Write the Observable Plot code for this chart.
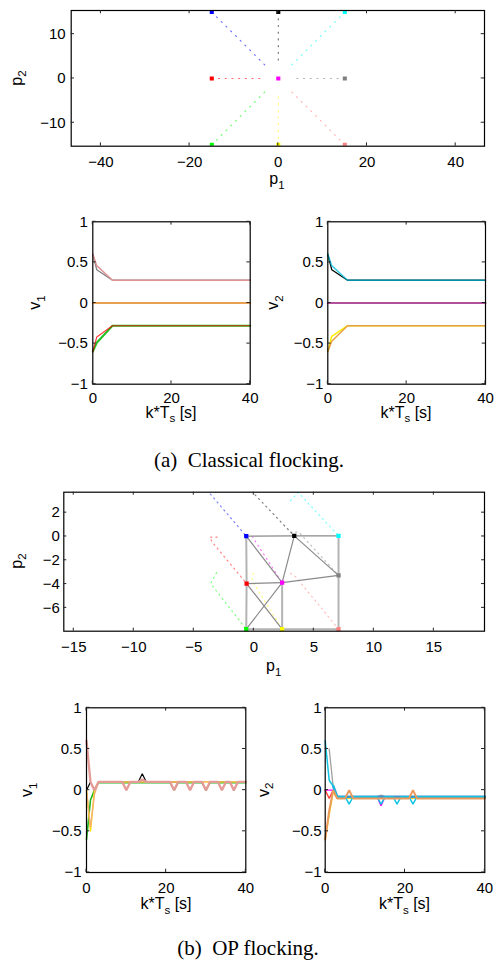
<!DOCTYPE html>
<html><head><meta charset="utf-8">
<script src="https://cdn.jsdelivr.net/npm/d3@7"></script>
<script src="https://cdn.jsdelivr.net/npm/@observablehq/plot@0.6"></script>
<style>
body{margin:0;background:#fff;}
#fig{position:relative;width:496px;height:961px;overflow:hidden;}
#fig svg{position:absolute;}
</style></head><body><div id="fig"></div>
<script>
// ---------- data ----------
const agents = ["blue","black","cyan","red","magenta","gray","green","yellow","salmon"];
const agentColors = ["#0000ff","#000000","#00ffff","#ff0000","#ff00ff","#808080","#00ff00","#ffff00","#ff8080"];

// (a) classical: start markers and inner ends of trajectories
const classP1 = [-15, 0, 15, -15, 0, 15, -15, 0, 15];
const classP2 = [15, 15, 15, 0, 0, 0, -15, -15, -15];
const classEndP1 = [-3, 0, 3, -3, 0, 3, -3, 0, 3];
const classEndP2 = [3, 3, 3, 0, 0, 0, -3, -3, -3];

// (a) velocities (vertices)
const classV1Agent = ["gray", "salmon", "magenta", "green", "red"];
const classV1T = [[0,1,5,40],[0,1,5,40],[0,40],[0,1,5,40],[0,1,5,40]];
const classV1V = [[0.6,0.41,0.28,0.28],[0.6,0.46,0.28,0.28],[0,0],[-0.6,-0.49,-0.28,-0.28],[-0.6,-0.42,-0.28,-0.28]];
const classV2Agent = ["yellow", "salmon", "magenta", "black", "cyan"];
const classV2T = [[0,1,5,40],[0,1,5,40],[0,40],[0,1,5,40],[0,1,5,40]];
const classV2V = [[-0.6,-0.41,-0.28,-0.28],[-0.6,-0.47,-0.28,-0.28],[0,0],[0.6,0.41,0.28,0.28],[0.6,0.46,0.28,0.28]];

// (b) OP: final positions
const opP1 = [-0.63, 3.37, 7.06, -0.6, 2.36, 7.06, -0.63, 2.36, 7.06];
const opP2 = [0.03, 0.05, 0.05, -3.96, -3.88, -3.27, -7.79, -7.79, -7.79];
// (b) OP: trajectory vertices per agent
const opTrajP1 = [[-3.9,-0.63],[0.1,3.37],[3.06,3.7,7.06],[-3.06,-3.67,-3.47,-0.6],[-0.13,2.36],[3.06,3.75,7.06],[-3.1,-3.6,-0.63],[-0.05,-0.15,2.36],[3.06,3.5,7.06]];
const opTrajP2 = [[3.9,0.03],[3.5,0.05],[3.0,3.7,0.05],[-0.05,-0.05,-0.47,-3.96],[0.0,-3.88],[0.36,0.36,-3.27],[-3.04,-3.95,-7.79],[-3.1,-3.7,-7.79],[-3.1,-3.4,-7.79]];
// (b) OP: communication graph edges (agent indices)
const opEdgeFrom = [0,1,0,3,2,5,6,7,4,0,1,1,3,4,3,6];
const opEdgeTo   = [1,2,3,6,5,8,7,8,7,4,4,5,4,5,7,4];

// (b) velocities (vertices)
const opV1Agent = ["black","green","yellow","orange","salmon"];
const opV1T = [
  [0,1,2,3,13,14,15,29,30,31,36,37,38,40],
  [0,1,2,3,21,22,23,29,30,31,40],
  [0,1,2,3,40],
  [0,1,2,3,40],
  [0,1,2,3,9,10,11,13,14,15,21,22,23,25,26,27,29,30,31,33,34,35,36,37,38,40]];
const opV1V = [
  [0,0.1,0,0.1,0.1,0.2,0.1,0.1,0,0.1,0.1,0,0.1,0.1],
  [-0.6,-0.12,0,0.09,0.09,0,0.09,0.09,0,0.09,0.09],
  [0,-0.5,0,0.1,0.1],
  [0,-0.45,-0.05,0.1,0.1],
  [0.6,0.1,0,0.1,0.1,0,0.1,0.1,0.13,0.1,0.1,0,0.1,0.1,0,0.1,0.1,0,0.1,0.1,0,0.1,0.1,0,0.1,0.1]];
const opV2Agent = ["gray","magenta","red","yellow","blue","cyan","orange"];
const opV2T = [
  [1,2,3,13,14,15,40],
  [0,1,2,3,13,14,15,40],
  [0,1,2,3,40],
  [0,1,2,3,40],
  [2,3,40],
  [0,1,2,3,5,6,7,13,14,15,17,18,19,21,22,23,40],
  [0,1,2,3,5,6,7,21,22,23,40]];
const opV2V = [
  [0.5,0.04,-0.08,-0.08,-0.06,-0.08,-0.08],
  [0,0,0,-0.08,-0.08,-0.19,-0.08,-0.08],
  [0,-0.1,0,-0.1,-0.1],
  [-0.6,-0.3,-0.02,-0.1,-0.1],
  [0.05,-0.08,-0.08],
  [0.6,0.12,0.05,-0.08,-0.08,-0.17,-0.08,-0.08,-0.17,-0.08,-0.08,-0.17,-0.08,-0.08,-0.17,-0.08,-0.08],
  [-0.6,-0.25,0,-0.1,-0.1,0,-0.1,-0.1,0,-0.1,-0.1]];

const trajXTicksA = [-40,-20,0,20,40], trajYTicksA = [-10,0,10];
const trajXTicksB = [-15,-10,-5,0,5,10,15], trajYTicksB = [-6,-4,-2,0,2];
const velXTicks = [0,20,40], velYTicks = [-1,-0.5,0,0.5,1];

// ---------- styles ----------
const SANS = "'Liberation Sans', Arial, Helvetica, sans-serif";
const SERIF = "'Liberation Serif', 'Times New Roman', serif";
const velStyle = {
  classV1: {gray:["#808080",1.3,1], salmon:["#e09595",1.5,1], magenta:["#e9a050",2.2,1], green:["#22c022",2,1], red:["#ff0000",1.2,0.75]},
  classV2: {yellow:["#ffee00",1.5,1], salmon:["#e2a040",1.4,1], magenta:["#b2509e",2.2,1], black:["#000000",1.3,1], cyan:["#00c0e0",1.6,0.75]},
  opV1: {black:["#000000",1.2,1], green:["#1fb51f",1.6,1], yellow:["#ffe000",1.4,1], orange:["#f5b070",1.4,1], salmon:["#e59b97",2.3,1]},
  opV2: {gray:["#a0a0a0",1.3,1], magenta:["#ff00ff",1.4,1], red:["#ff4040",1.3,1], yellow:["#f0d820",1.4,1], blue:["#3a98d0",2.6,1], cyan:["#10c4e4",1.5,1], orange:["#ec9a5c",2.0,1]}
};
const fmt = d => (d < 0 ? "\u2212" : "") + Math.abs(d);
const fig = document.getElementById("fig");

function panel(o) {
  const plot = Plot.plot({
    width: o.width, height: o.height,
    marginLeft: o.ml, marginRight: o.mr, marginTop: o.mt, marginBottom: o.mb,
    style: {background: "transparent", fontSize: "15px", fontFamily: SANS, overflow: "visible", maxWidth: "none", color: "black"},
    x: {domain: o.xDomain, ticks: o.xTicks, tickSize: 0, tickPadding: o.xPad, tickFormat: fmt, label: null},
    y: {domain: o.yDomain, ticks: o.yTicks, tickSize: 0, tickPadding: o.yPad, tickFormat: fmt, label: null},
    marks: [...o.marks, Plot.frame({stroke: "black", strokeWidth: 1.2})]
  });
  plot.style.left = o.left + "px";
  plot.style.top = o.top + "px";
  const sx = plot.scale("x"), sy = plot.scale("y");
  const x0 = o.ml, x1 = o.width - o.mr, y0 = o.mt, y1 = o.height - o.mb, L = o.tick || 3.3;
  const g = d3.select(plot).append("g").attr("stroke", "#222").attr("stroke-width", 1);
  for (const t of o.xTicks) {
    const X = sx.apply(t);
    g.append("line").attr("x1", X).attr("x2", X).attr("y1", y1).attr("y2", y1 - L);
    g.append("line").attr("x1", X).attr("x2", X).attr("y1", y0).attr("y2", y0 + L);
  }
  for (const t of o.yTicks) {
    const Y = sy.apply(t);
    g.append("line").attr("y1", Y).attr("y2", Y).attr("x1", x0).attr("x2", x0 + L);
    g.append("line").attr("y1", Y).attr("y2", Y).attr("x1", x1).attr("x2", x1 - L);
  }
  label(plot, o.xl[0] - o.left, o.xl[1] - o.top, o.xlab, false);
  label(plot, o.yl[0] - o.left, o.yl[1] - o.top, o.ylab, true);
  fig.appendChild(plot);
  return plot;
}
function label(svg, x, y, parts, rot) {
  const t = d3.select(svg).append("text")
    .attr("transform", `translate(${x},${y})` + (rot ? " rotate(-90)" : ""))
    .attr("text-anchor", "middle").attr("font-size", 16).attr("font-family", SANS).attr("fill", "black");
  t.append("tspan").text(parts[0]);
  t.append("tspan").attr("font-size", 11.5).attr("dy", 4.5).text(parts[1]);
  if (parts[2]) t.append("tspan").attr("dy", -4.5).text(parts[2]);
}
function velMarks(agentsList, T, V, styles) {
  return agentsList.map((a, i) => {
    const rows = T[i].map((t, j) => ({t, v: V[i][j]}));
    const [c, w, op] = styles[a];
    return Plot.line(rows, {x: "t", y: "v", stroke: c, strokeWidth: w, strokeOpacity: op, strokeLinejoin: "miter"});
  });
}

// ---------- (a) trajectories ----------
const idx = d3.range(agents.length);
const marksA = [];
idx.forEach(i => {
  if (classP1[i] === classEndP1[i] && classP2[i] === classEndP2[i]) return;
  marksA.push(Plot.line([[classP1[i], classP2[i]], [classEndP1[i], classEndP2[i]]], {
    stroke: agentColors[i], strokeOpacity: 0.6, strokeWidth: 1.1, strokeDasharray: "1.1 5.6", clip: true}));
});
idx.forEach(i => marksA.push(Plot.dot([[classP1[i], classP2[i]]], {fill: agentColors[i], symbol: "square", r: 2.3, clip: true})));

panel({left: 0, top: 0, width: 496, height: 200, ml: 70.7, mr: 12, mt: 10, mb: 54.3,
  xDomain: [-46.7, 46.5], yDomain: [-15.3, 15.35], xTicks: trajXTicksA, yTicks: trajYTicksA, xPad: 10.5, yPad: 5.5,
  marks: marksA, xl: [277, 184], yl: [21.5, 78], xlab: ["p", "1"], ylab: ["p", "2"]});

panel({left: 0, top: 200, width: 260, height: 240, ml: 92.3, mr: 10.3, mt: 21.3, mb: 56.3,
  xDomain: [0, 40], yDomain: [-1, 1], xTicks: velXTicks, yTicks: velYTicks, xPad: 8, yPad: 5,
  marks: velMarks(classV1Agent, classV1T, classV1V, velStyle.classV1),
  xl: [171, 417.5], yl: [40, 302.5], xlab: ["k*T", "s", " [s]"], ylab: ["v", "1"]});

panel({left: 250, top: 200, width: 246, height: 240, ml: 77.3, mr: 11, mt: 21.3, mb: 56.3,
  xDomain: [0, 40], yDomain: [-1, 1], xTicks: velXTicks, yTicks: velYTicks, xPad: 8, yPad: 4.5,
  marks: velMarks(classV2Agent, classV2T, classV2V, velStyle.classV2),
  xl: [406, 417.5], yl: [278, 302.5], xlab: ["k*T", "s", " [s]"], ylab: ["v", "2"]});

// ---------- (b) trajectories ----------
const marksB = [];
idx.forEach(i => {
  const pts = opTrajP1[i].map((x, j) => [x, opTrajP2[i][j]]);
  marksB.push(Plot.line(pts, {stroke: agentColors[i], strokeOpacity: 0.5, strokeWidth: 1.2, strokeDasharray: "1.2 4", clip: true}));
});
const thick = new Set([2,3,4,5,6,7,8]);
opEdgeFrom.forEach((a, k) => {
  const b = opEdgeTo[k];
  marksB.push(Plot.line([[opP1[a], opP2[a]], [opP1[b], opP2[b]]], {
    stroke: thick.has(k) ? "#b4b4b4" : "#8a8a8a", strokeWidth: thick.has(k) ? 2 : 1.2, clip: true}));
});
idx.forEach(i => marksB.push(Plot.dot([[opP1[i], opP2[i]]], {fill: agentColors[i], symbol: "square", r: 2.4})));

panel({left: 0, top: 470, width: 496, height: 210, ml: 63.3, mr: 12, mt: 21.7, mb: 49.3,
  xDomain: [-15.83, 19.22], yDomain: [-7.96, 3.72], xTicks: trajXTicksB, yTicks: trajYTicksB, xPad: 10, yPad: 4, tick: 3,
  marks: marksB, xl: [273.7, 671], yl: [21.5, 561], xlab: ["p", "1"], ylab: ["p", "2"]});

panel({left: 0, top: 680, width: 260, height: 240, ml: 86, mr: 14.7, mt: 27.3, mb: 48,
  xDomain: [0, 40], yDomain: [-1, 1], xTicks: velXTicks, yTicks: velYTicks, xPad: 9.5, yPad: 5,
  marks: velMarks(opV1Agent, opV1T, opV1V, velStyle.opV1),
  xl: [166, 909], yl: [32, 789.7], xlab: ["k*T", "s", " [s]"], ylab: ["v", "1"]});

panel({left: 250, top: 680, width: 246, height: 240, ml: 74.7, mr: 11.7, mt: 27.3, mb: 48,
  xDomain: [0, 40], yDomain: [-1, 1], xTicks: velXTicks, yTicks: velYTicks, xPad: 9.5, yPad: 3.5,
  marks: velMarks(opV2Agent, opV2T, opV2V, velStyle.opV2),
  xl: [404.5, 909], yl: [268.5, 789.7], xlab: ["k*T", "s", " [s]"], ylab: ["v", "2"]});

// ---------- captions ----------
const caps = d3.select(fig).append("svg").attr("width", 496).attr("height", 961).style("left", "0px").style("top", "0px").style("pointer-events", "none");
caps.append("text").attr("x", 249).attr("y", 467).attr("text-anchor", "middle").attr("font-family", SERIF).attr("font-size", 21)
  .text("(a)\u2002Classical flocking.");
caps.append("text").attr("x", 248).attr("y", 955).attr("text-anchor", "middle").attr("font-family", SERIF).attr("font-size", 21)
  .text("(b)\u2002OP flocking.");
</script></body></html>
